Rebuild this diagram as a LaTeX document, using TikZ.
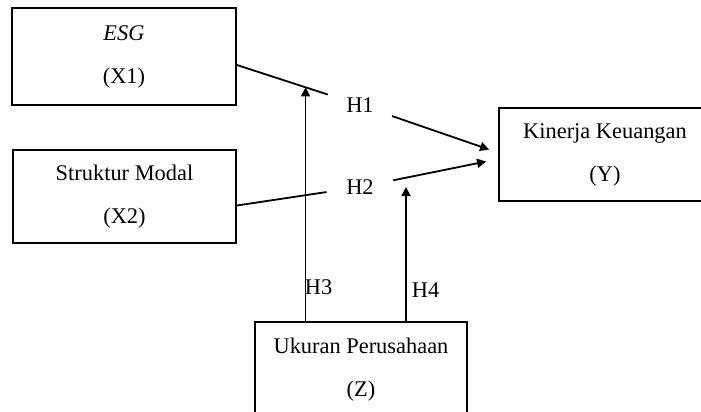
\documentclass[tikz,border=0pt]{standalone}
\usepackage{fontspec}
\setmainfont{Liberation Serif}
\usetikzlibrary{arrows.meta,calc}
\tikzset{
  varbox/.style={draw, rectangle, align=center, inner sep=0},
  hyp/.style={circle, minimum size=33pt, inner sep=0},
  >={Triangle[length=4.5pt,width=4.5pt]}
}
\begin{document}
\begin{tikzpicture}[line width = 0.9, x=0.5pt, y=-0.5pt]
\fontsize{11.2}{21.5}\selectfont
\useasboundingbox (0,0) rectangle (701,412);
\node[varbox, minimum width=112pt, minimum height=48.5pt] (esg) at (124,56.5) {\textit{ESG}\\(X1)};
\node[varbox, minimum width=111.5pt, minimum height=46.5pt] (struktur) at (124.5,196.5) {Struktur Modal\\(X2)};
\node[varbox, minimum width=106pt, minimum height=46.5pt] (kinerja) at (605,154.5) {Kinerja Keuangan\\(Y)};
\node[varbox, minimum width=106pt, minimum height=48pt] (ukuran) at (361,370) {Ukuran Perusahaan\\(Z)};
\node[hyp] (h1) at (360,105) {H1};
\node[hyp] (h2) at (360,187) {H2};
\node[anchor=west, inner sep=0] (h3) at (304,287) {H3};
\node[anchor=west, inner sep=0] (h4) at (411,290) {H4};
\coordinate (m2) at ($(h2)+(46,0)$);
\draw ($(esg.east)+(0,8.5)$) -- (h1) coordinate[pos=0.756] (m1);
\draw ($(struktur.east)+(0,9)$) -- (h2);
\draw[->] (h1) -- ($(kinerja.west)+(-9,-5)$);
\draw[->] (h2) -- ($(kinerja.west)+(-12,7)$);
\draw[->] (ukuran.north -| m1) -- (m1);
\draw[->] (ukuran.north -| m2) -- (m2);
\end{tikzpicture}
\end{document}
